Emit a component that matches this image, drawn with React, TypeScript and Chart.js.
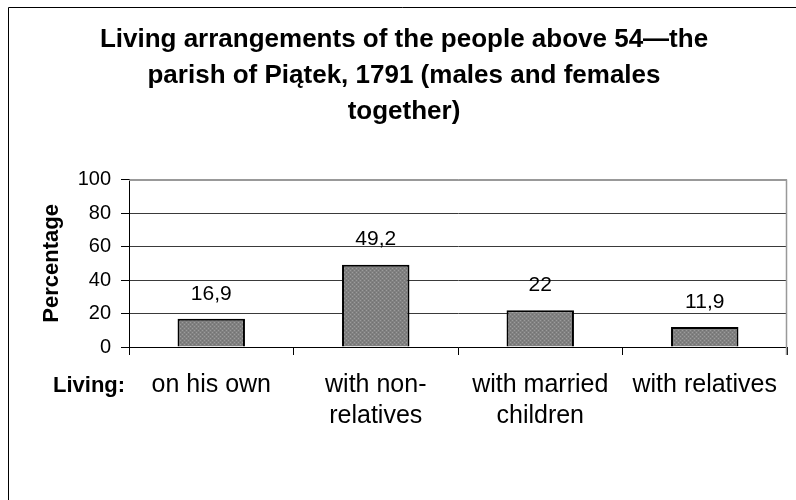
import React, { useEffect, useRef } from "react";
import { Chart, registerables } from "chart.js";

Chart.register(...registerables);

const titleLines = [
  "Living arrangements of the people above 54\u2014the",
  "parish of Piątek, 1791 (males and females",
  "together)",
];
const categories: string[][] = [
  ["on his own"],
  ["with non-", "relatives"],
  ["with married", "children"],
  ["with relatives"],
];
const values: number[] = [16.9, 49.2, 22, 11.9];
const yAxisTitle = "Percentage";
const xAxisLead = "Living:";
const yMin = 0;
const yMax = 100;
const yStep = 20;

const FONT = '"Liberation Sans", Arial, Helvetica, sans-serif';

function makePattern(): CanvasPattern | string {
  const c = document.createElement("canvas");
  c.width = 4;
  c.height = 4;
  const g = c.getContext("2d");
  if (!g) return "#888888";
  g.fillStyle = "#808080";
  g.fillRect(0, 0, 4, 4);
  g.fillStyle = "#9c9c9c";
  g.fillRect(0, 0, 1, 1);
  g.fillRect(2, 2, 1, 1);
  g.fillStyle = "#727272";
  g.fillRect(2, 0, 1, 1);
  g.fillRect(0, 2, 1, 1);
  const p = g.createPattern(c, "repeat");
  return p || "#888888";
}

const framePlugin = {
  id: "frame",
  beforeDraw(chart: any) {
    const { ctx, width, height } = chart;
    ctx.save();
    ctx.fillStyle = "#ffffff";
    ctx.fillRect(0, 0, width, height);
    ctx.strokeStyle = "#000000";
    ctx.lineWidth = 1;
    ctx.beginPath();
    ctx.moveTo(8.5, height);
    ctx.lineTo(8.5, 7.5);
    ctx.lineTo(width, 7.5);
    ctx.stroke();
    ctx.restore();
  },
  afterDraw(chart: any) {
    const { ctx, chartArea } = chart;
    ctx.save();
    ctx.strokeStyle = "#999999";
    ctx.lineWidth = 1.5;
    ctx.beginPath();
    ctx.moveTo(chartArea.left, chartArea.top + 0.5);
    ctx.lineTo(chartArea.right - 0.5, chartArea.top + 0.5);
    ctx.lineTo(chartArea.right - 0.5, chartArea.bottom + 8);
    ctx.stroke();
    // lead label for the category axis
    ctx.fillStyle = "#000000";
    ctx.font = `bold 22px ${FONT}`;
    ctx.textAlign = "left";
    ctx.textBaseline = "middle";
    ctx.fillText(xAxisLead, 53, 386);
    ctx.restore();
  },
};

const valueLabelPlugin = {
  id: "valueLabels",
  afterDatasetsDraw(chart: any) {
    const { ctx } = chart;
    const meta = chart.getDatasetMeta(0);
    ctx.save();
    ctx.fillStyle = "#000000";
    ctx.font = `21px ${FONT}`;
    ctx.textAlign = "center";
    ctx.textBaseline = "middle";
    meta.data.forEach((el: any, i: number) => {
      const v = values[i];
      const txt = String(v).replace(".", ",");
      ctx.fillText(txt, el.x, el.y - 25);
    });
    ctx.restore();
  },
};

export default function App() {
  const ref = useRef<HTMLCanvasElement | null>(null);

  useEffect(() => {
    if (!ref.current) return;
    const chart = new Chart(ref.current, {
      type: "bar",
      data: {
        labels: categories,
        datasets: [
          {
            data: values,
            backgroundColor: makePattern() as any,
            borderColor: "#000000",
            borderWidth: 2,
            barPercentage: 0.41,
            categoryPercentage: 1.0,
          },
        ],
      },
      options: {
        responsive: false,
        animation: false,
        layout: { padding: { left: 21, right: 9, top: 0, bottom: 0 } },
        plugins: {
          legend: { display: false },
          tooltip: { enabled: false },
          title: {
            display: true,
            text: titleLines,
            color: "#000000",
            font: { family: FONT, size: 26, weight: "bold", lineHeight: 1.38 },
            padding: { top: 22, bottom: 50 },
          },
        },
        scales: {
          x: {
            type: "category",
            offset: true,
            grid: {
              display: true,
              offset: true,
              drawOnChartArea: false,
              drawTicks: true,
              tickLength: 8,
              color: "#000000",
            },
            border: { display: true, color: "#000000", width: 1 },
            ticks: {
              color: "#000000",
              font: { family: FONT, size: 25, lineHeight: 1.24 },
              padding: 15,
              maxRotation: 0,
              minRotation: 0,
              autoSkip: false,
            },
            afterFit(scale: any) {
              scale.height = 153;
            },
          },
          y: {
            min: yMin,
            max: yMax,
            ticks: {
              stepSize: yStep,
              color: "#000000",
              font: { family: FONT, size: 20 },
              padding: 10,
            },
            grid: {
              color: (c: any) => (c.tick && c.tick.value === yMax ? "#999999" : "#3a3a3a"),
              tickColor: "#000000",
              tickLength: 8,
              drawTicks: true,
              lineWidth: 1,
            },
            border: { display: true, color: "#000000", width: 1 },
            title: {
              display: true,
              text: yAxisTitle,
              color: "#000000",
              font: { family: FONT, size: 22, weight: "bold", lineHeight: 1.2 },
              padding: { top: 18, bottom: 0 },
            },
            afterFit(scale: any) {
              scale.width = 108;
            },
          },
        },
      },
      plugins: [framePlugin, valueLabelPlugin],
    });
    return () => chart.destroy();
  }, []);

  return (
    <div style={{ position: "absolute", left: 0, top: 0, width: 796, height: 500 }}>
      <canvas ref={ref} width={796} height={500} style={{ display: "block", width: 796, height: 500 }} />
    </div>
  );
}
